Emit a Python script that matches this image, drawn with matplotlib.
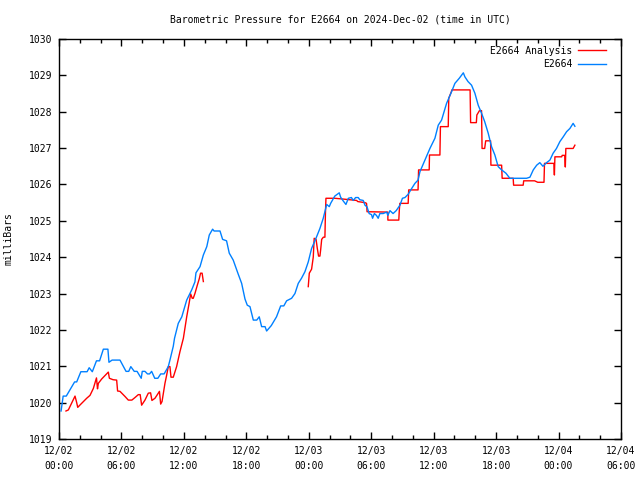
import numpy as np
import matplotlib
matplotlib.use("Agg")
import matplotlib.pyplot as plt
from matplotlib.ticker import MultipleLocator

# Hours since 2024-12-02 00:00 UTC
obs_hours = [0.2, 0.4, 0.7, 1.5, 1.7, 2.1, 2.7, 2.9, 3.2, 3.6, 3.9, 4.26, 4.7, 4.8, 5.1, 5.86,
             6.44, 6.7, 6.9, 7.23, 7.5, 7.9, 8.0, 8.26, 8.5, 8.7, 8.9, 9.2, 9.5, 9.77, 10.1,
             10.5, 10.66, 10.98, 11.1, 11.46, 11.8, 12.27, 12.75, 13.06, 13.16, 13.55, 13.87,
             14.2, 14.44, 14.76, 14.9, 15.47, 15.72, 16.1, 16.36, 16.74, 17.2, 17.55, 17.87,
             18.09, 18.35, 18.67, 19.0, 19.24, 19.47, 19.8, 19.95, 20.4, 20.9, 21.3, 21.6,
             21.87, 22.35, 22.67, 22.99, 23.3, 23.63, 23.95, 24.27, 24.75, 25.07, 25.39, 25.55,
             25.72, 25.97, 26.1, 26.5, 26.93, 27.06, 27.3, 27.57, 27.8, 28.1, 28.27, 28.5,
             28.75, 28.9, 29.23, 29.4, 29.6, 29.8, 30.03, 30.13, 30.3, 30.5, 30.67, 30.83,
             31.15, 31.48, 31.6, 31.8, 32.1, 32.4, 32.76, 33.0, 33.24, 33.55, 33.8, 34.2, 34.5,
             34.68, 35.16, 35.64, 36.12, 36.44, 36.76, 37.24, 37.72, 38.04, 38.46, 38.85, 39.0,
             39.3, 39.64, 39.96, 40.28, 40.6, 40.9, 41.24, 41.56, 41.88, 42.2, 42.53, 42.94,
             43.32, 44.3, 44.93, 45.25, 45.57, 45.9, 46.2, 46.5, 46.85, 47.17, 47.48, 47.8,
             48.13, 48.45, 48.77, 49.09, 49.4, 49.57]
obs_mb = [1019.77, 1020.18, 1020.18, 1020.57, 1020.57, 1020.85, 1020.85, 1020.96, 1020.85,
          1021.15, 1021.15, 1021.47, 1021.47, 1021.11, 1021.17, 1021.17, 1020.86, 1020.86,
          1020.99, 1020.86, 1020.86, 1020.67, 1020.86, 1020.86, 1020.79, 1020.79, 1020.86,
          1020.67, 1020.67, 1020.79, 1020.79, 1020.99, 1021.17, 1021.55, 1021.77, 1022.18,
          1022.36, 1022.82, 1023.10, 1023.32, 1023.57, 1023.74, 1024.06, 1024.29, 1024.61,
          1024.77, 1024.72, 1024.72, 1024.49, 1024.45, 1024.11, 1023.92, 1023.55, 1023.28,
          1022.85, 1022.68, 1022.64, 1022.27, 1022.27, 1022.36, 1022.09, 1022.09, 1021.97,
          1022.12, 1022.36, 1022.66, 1022.66, 1022.80, 1022.87, 1023.00, 1023.28, 1023.42,
          1023.60, 1023.87, 1024.24, 1024.56, 1024.79, 1025.07, 1025.25, 1025.45, 1025.39,
          1025.48, 1025.68, 1025.77, 1025.65, 1025.55, 1025.45, 1025.62, 1025.64, 1025.56,
          1025.64, 1025.64, 1025.58, 1025.56, 1025.43, 1025.38, 1025.20, 1025.17, 1025.07,
          1025.20, 1025.15, 1025.07, 1025.20, 1025.20, 1025.24, 1025.15, 1025.28, 1025.20,
          1025.28, 1025.43, 1025.62, 1025.64, 1025.73, 1025.85, 1026.03, 1026.12, 1026.35,
          1026.67, 1026.99, 1027.27, 1027.63, 1027.77, 1028.23, 1028.55, 1028.78, 1028.92,
          1029.07, 1028.96, 1028.83, 1028.73, 1028.51, 1028.18, 1027.96, 1027.73, 1027.41,
          1027.04, 1026.81, 1026.49, 1026.40, 1026.31, 1026.17, 1026.17, 1026.17, 1026.20,
          1026.40, 1026.53, 1026.60, 1026.50, 1026.60, 1026.67, 1026.86, 1026.99, 1027.18,
          1027.31, 1027.45, 1027.54, 1027.68, 1027.60]

ana_hours = [0.67, 0.9, 1.54, 1.7, 1.8, 2.0, 2.66, 2.98, 3.3, 3.6, 3.7, 3.78, 4.1, 4.74, 4.84,
             5.2, 5.54, 5.63, 5.86, 6.34, 6.66, 7.0, 7.3, 7.62, 7.8, 7.94, 8.26, 8.58, 8.8,
             8.93, 9.22, 9.54, 9.65, 9.77, 9.9, 10.18, 10.34, 10.5, 10.66, 10.76, 10.98, 11.3,
             11.62, 11.78, 11.95, 12.27, 12.5, 12.65, 12.8, 12.9, 13.06, 13.29, 13.48, 13.6,
             13.75, 13.87, np.nan,
             23.95, 24.05, 24.27, 24.43, 24.52, 24.7, 24.82, 24.94, 25.07, 25.14, 25.24, 25.4,
             25.55, 25.6, 25.65, 26.5, 27.6, 28.6, 28.7, 29.4, 29.55, 29.6, 31.6, 31.6, 32.65,
             32.7, 32.75, 33.55, 33.6, 34.5, 34.55, 35.57, 35.6, 36.6, 36.65, 37.4, 37.45,
             37.7, 37.75, 39.5, 39.55, 40.1, 40.15, 40.4, 40.6, 40.65, 40.9, 41.0, 41.47, 41.5,
             42.53, 42.58, 43.64, 43.68, 44.6, 44.65, 45.7, 46.0, 46.6, 46.65, 47.55, 47.6,
             47.65, 48.3, 48.35, 48.6, 48.65, 48.7, 49.4, 49.57]
ana_mb = [1019.77, 1019.80, 1020.18, 1020.00, 1019.87, 1019.93, 1020.12, 1020.20, 1020.39,
          1020.68, 1020.38, 1020.53, 1020.65, 1020.84, 1020.67, 1020.63, 1020.62, 1020.32,
          1020.31, 1020.17, 1020.07, 1020.07, 1020.14, 1020.22, 1020.22, 1019.93, 1020.07,
          1020.26, 1020.27, 1020.06, 1020.12, 1020.26, 1020.31, 1019.96, 1020.03, 1020.53,
          1020.75, 1020.99, 1020.99, 1020.70, 1020.70, 1020.99, 1021.40, 1021.58, 1021.77,
          1022.36, 1022.73, 1022.99, 1022.87, 1022.87, 1023.00, 1023.23, 1023.41, 1023.56,
          1023.56, 1023.33, np.nan,
          1023.19, 1023.56, 1023.67, 1024.00, 1024.52, 1024.49, 1024.24, 1024.03, 1024.03,
          1024.20, 1024.49, 1024.55, 1024.55, 1025.20, 1025.62, 1025.62, 1025.59, 1025.56,
          1025.53, 1025.50, 1025.48, 1025.25, 1025.24, 1025.02, 1025.02, 1025.30, 1025.48,
          1025.48, 1025.85, 1025.85, 1026.40, 1026.40, 1026.81, 1026.81, 1027.59, 1027.59,
          1028.37, 1028.55, 1028.60, 1028.60, 1027.70, 1027.70, 1027.91, 1028.03, 1028.03,
          1026.99, 1026.99, 1027.20, 1027.20, 1026.53, 1026.53, 1026.17, 1026.17, 1025.98,
          1025.98, 1026.10, 1026.10, 1026.06, 1026.06, 1026.58, 1026.58, 1026.26, 1026.76,
          1026.76, 1026.80, 1026.80, 1026.48, 1026.99, 1026.99, 1027.08]

tick_hours = [0, 6, 12, 18, 24, 30, 36, 42, 48, 54]
tick_labels = ["12/02\n00:00", "12/02\n06:00", "12/02\n12:00", "12/02\n18:00",
               "12/03\n00:00", "12/03\n06:00", "12/03\n12:00", "12/03\n18:00",
               "12/04\n00:00", "12/04\n06:00"]
y_ticks = list(range(1019, 1031))

FONT = "DejaVu Sans Mono"
FS = 7
plt.rcParams['font.family'] = [FONT]

fig = plt.figure(figsize=(6.4, 4.8), dpi=100)
ax = fig.add_axes([59/640, 1 - 439/480, (621-59)/640, 400/480])

ax.plot(ana_hours, ana_mb, color="#ff0000", lw=1.0, label="E2664 Analysis")
ax.plot(obs_hours, obs_mb, color="#0080ff", lw=1.0, label="E2664")

ax.set_xlim(0, 54)
ax.set_ylim(1019, 1030)
ax.set_xticks(tick_hours)
ax.set_xticklabels(tick_labels, fontsize=FS, linespacing=1.6)
ax.xaxis.set_minor_locator(MultipleLocator(2))
ax.set_yticks(y_ticks)
ax.set_yticklabels([str(v) for v in y_ticks], fontsize=FS)

ax.tick_params(axis='both', which='major', direction='in', length=5, width=1,
               top=True, right=True, pad=5)
ax.tick_params(axis='x', which='minor', direction='in', length=3, width=1,
               top=True, bottom=True)
for s in ax.spines.values():
    s.set_linewidth(1.0)

ax.set_title("Barometric Pressure for E2664 on 2024-Dec-02 (time in UTC)",
             fontsize=FS, pad=12)
ax.set_ylabel("milliBars", fontsize=FS, labelpad=11)

leg = ax.legend(loc="upper right", frameon=False, markerfirst=False,
                fontsize=FS, handlelength=2.9, handletextpad=0.6,
                labelspacing=0.35, borderaxespad=0.3,
                bbox_to_anchor=(1 - 8/562, 1))
for t in leg.get_texts():
    t.set_ha("right")

fig.savefig("out.png", dpi=100)
